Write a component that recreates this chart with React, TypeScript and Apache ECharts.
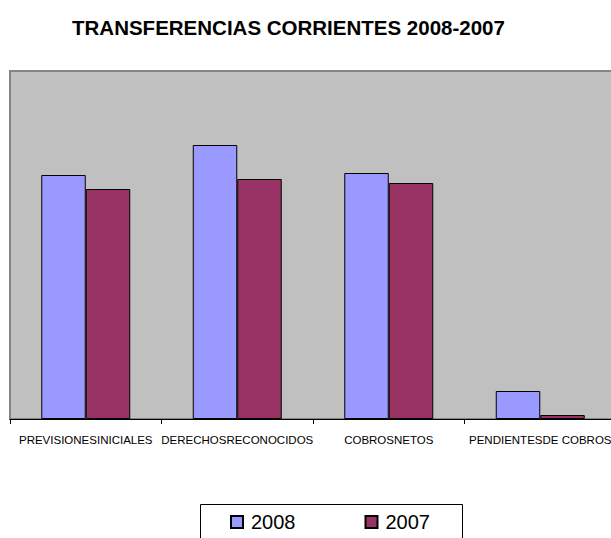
import React, { useEffect, useRef } from "react";
import * as echarts from "echarts";

const categories = [
  "PREVISIONESINICIALES",
  "DERECHOSRECONOCIDOS",
  "COBROSNETOS",
  "PENDIENTESDE COBROS",
];
const series2008 = [244, 274, 246, 28];
const series2007 = [230, 240, 236, 4];
const seriesNames = ["2008", "2007"];
const yMax = 348;

const FONT = "'Liberation Sans', Arial, sans-serif";

export default function App() {
  const ref = useRef<HTMLDivElement>(null);
  useEffect(() => {
    if (!ref.current) return;
    const chart = echarts.init(ref.current, null, { renderer: "svg" });
    chart.setOption({
      animation: false,
      backgroundColor: "#ffffff",
      title: {
        text: "TRANSFERENCIAS CORRIENTES 2008-2007",
        left: 67,
        top: 12,
        textStyle: {
          fontFamily: FONT,
          fontWeight: "bold",
          fontSize: 20.5,
          color: "#000000",
        },
      },
      graphic: [
        {
          type: "rect",
          shape: { x: 200.5, y: 504.5, width: 262, height: 50 },
          style: { fill: "transparent", stroke: "#000000", lineWidth: 1 },
          z: 10,
        },
      ],
      legend: {
        data: seriesNames,
        left: 225,
        top: 507,
        itemWidth: 12,
        itemHeight: 12,
        itemGap: 69,
        icon: "rect",
        textStyle: {
          fontFamily: FONT,
          fontSize: 20,
          color: "#000000",
          padding: [0, 0, 0, 3],
        },
      },
      grid: {
        show: true,
        left: 10,
        top: 71,
        width: 606,
        height: 348,
        backgroundColor: "#C0C0C0",
        borderColor: "#858585",
        borderWidth: 2,
      },
      xAxis: {
        type: "category",
        data: categories,
        axisLine: { show: true, lineStyle: { color: "#000000", width: 1 } },
        axisTick: { show: true, length: 5, lineStyle: { color: "#000000" } },
        axisLabel: {
          interval: 0,
          margin: 15,
          fontFamily: FONT,
          fontSize: 11.5,
          color: "#000000",
        },
      },
      yAxis: {
        type: "value",
        min: 0,
        max: yMax,
        show: false,
        splitLine: { show: false },
      },
      series: [
        {
          name: seriesNames[0],
          type: "bar",
          data: series2008,
          barWidth: 44.5,
          barGap: "0%",
          itemStyle: { color: "#9999FF", borderColor: "#000000", borderWidth: 1 },
        },
        {
          name: seriesNames[1],
          type: "bar",
          data: series2007,
          barWidth: 44.5,
          barGap: "0%",
          itemStyle: { color: "#993366", borderColor: "#000000", borderWidth: 1 },
        },
      ],
    });
    return () => chart.dispose();
  }, []);
  return (
    <div
      style={{
        position: "fixed",
        left: 0,
        top: 0,
        width: 611,
        height: 538,
        overflow: "hidden",
        background: "#ffffff",
      }}
    >
      <div ref={ref} style={{ width: 624, height: 538 }} />
    </div>
  );
}
